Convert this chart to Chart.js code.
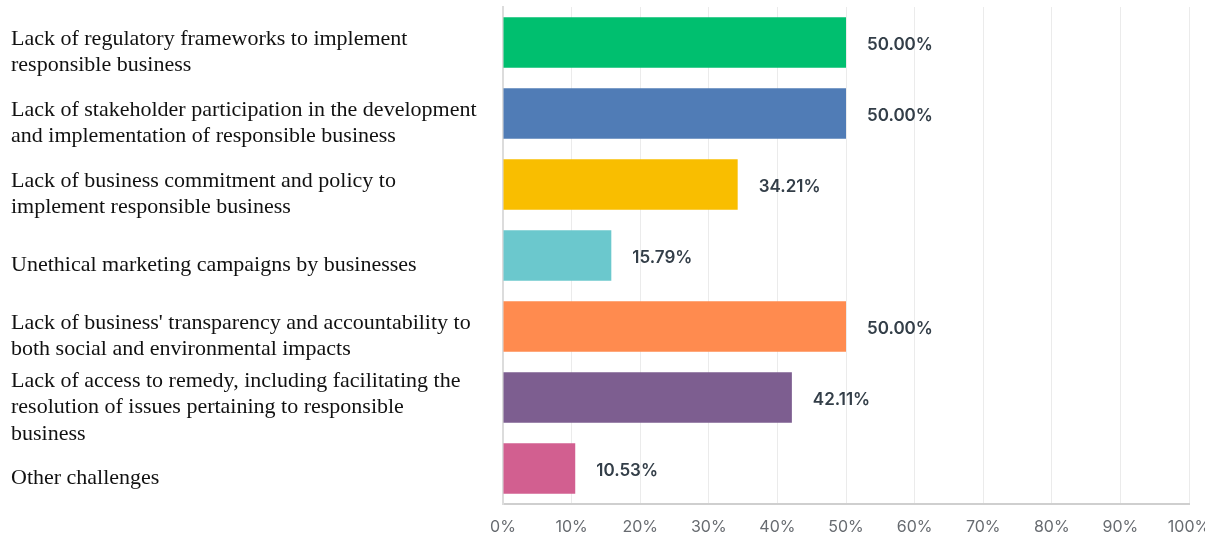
<!DOCTYPE html>
<html>
<head>
<meta charset="utf-8">
<script src="https://cdn.jsdelivr.net/npm/chart.js@4"></script>
<style>
  html, body { margin: 0; padding: 0; background: #fff; }
  #wrap { width: 1205px; height: 537px; position: relative; }
</style>
</head>
<body>
<div id="wrap"><canvas id="bar-chart"></canvas></div>
<script>
// challenges, wrapped the way they read on the left side
const challenges = [
    ["Lack of regulatory frameworks to implement", "responsible business"],
    ["Lack of stakeholder participation in the development", "and implementation of responsible business"],
    ["Lack of business commitment and policy to", "implement responsible business"],
    "Unethical marketing campaigns by businesses",
    ["Lack of business' transparency and accountability to", "both social and environmental impacts"],
    ["Lack of access to remedy, including facilitating the", "resolution of issues pertaining to responsible", "business"],
    "Other challenges"
];
const shares = [50.00, 50.00, 34.21, 15.79, 50.00, 42.11, 10.53];
const barColors = ["#00bf6f", "#507cb6", "#f9be00", "#6bc8cd", "#ff8b4f", "#7d5e90", "#d25f90"];
const xTicks = [0, 10, 20, 30, 40, 50, 60, 70, 80, 90, 100];

// percentage text to the right of each bar
const valueLabels = {
    id: 'valueLabels',
    afterDatasetsDraw(chart) {
        const ctx = chart.ctx;
        const meta = chart.getDatasetMeta(0);
        ctx.save();
        ctx.font = '600 17px Inter, sans-serif';
        ctx.fillStyle = '#333e48';
        ctx.textAlign = 'left';
        ctx.textBaseline = 'middle';
        meta.data.forEach((bar, i) => {
            ctx.fillText(shares[i].toFixed(2) + '%', bar.x + 21, bar.y + 2);
        });
        ctx.restore();
    }
};

new Chart(document.getElementById("bar-chart"), {
    type: 'bar',
    data: {
        labels: challenges,
        datasets: [{
            data: shares,
            backgroundColor: barColors,
            borderWidth: 0,
            barPercentage: 0.71,
            categoryPercentage: 1.0
        }]
    },
    options: {
        indexAxis: 'y',
        responsive: true,
        maintainAspectRatio: false,
        animation: false,
        layout: { padding: { left: 11, right: 16, top: 7, bottom: 0 } },
        plugins: {
            legend: { display: false },
            tooltip: { enabled: false }
        },
        scales: {
            x: {
                min: 0,
                max: 100,
                afterBuildTicks(scale) {
                    scale.ticks = xTicks.map(v => ({ value: v }));
                },
                afterFit(scale) {
                    scale.height = 33;
                    scale.paddingLeft = 0;
                    scale.paddingRight = 0;
                },
                ticks: {
                    callback: v => v + '%',
                    color: '#676b70',
                    padding: 14,
                    maxRotation: 0,
                    font: { family: 'Inter, sans-serif', size: 16 }
                },
                grid: { color: '#ebebeb', lineWidth: 1, drawTicks: false },
                border: { display: true, color: '#cfcfcf', width: 2 }
            },
            y: {
                afterFit(scale) {
                    scale.width = 492;
                    scale.paddingTop = 0;
                    scale.paddingBottom = 0;
                },
                ticks: {
                    autoSkip: false,
                    crossAlign: 'far',
                    labelOffset: 10,
                    color: '#111',
                    font: { family: '"Liberation Serif", "Times New Roman", serif', size: 22, lineHeight: 1.2 }
                },
                grid: { display: false, drawTicks: false },
                border: { display: true, color: '#dcdcdc', width: 2 }
            }
        }
    },
    plugins: [valueLabels]
});
</script>
</body>
</html>
